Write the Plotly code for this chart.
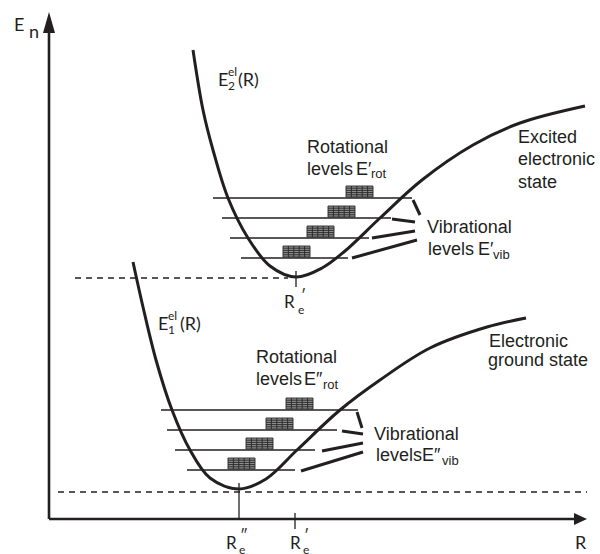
import plotly.graph_objects as go

INK = "#231f20"
SANS = "Liberation Sans, Arial, sans-serif"
HUMANIST = "Lato, Noto Sans, sans-serif"

# ---- potential curves (R, E) support points, drawing units (E grows downward on screen axis) ----
upper_R = [193, 203, 213, 228, 248, 270, 296, 322, 345, 380, 422, 473, 520, 585]
upper_E = [50, 110, 150, 198, 238, 266, 277, 268, 251, 218, 180, 145, 123, 106]

lower_R = [133, 143, 156, 172, 190, 210, 239, 266, 297, 340, 380, 430, 487, 526]
lower_E = [262, 307, 360, 410, 450, 478, 489, 479, 450, 410, 380, 348, 327, 318]

# ---- vibrational levels: energy, left end, right end ----
upper_vib_E = [198, 218, 238, 258]
upper_vib_left = [213, 222, 230, 241]
upper_vib_right = [412, 391, 369, 348]

lower_vib_E = [410, 430, 450, 470]
lower_vib_left = [161, 167, 175, 187]
lower_vib_right = [358, 337, 315, 295]

# ---- rotational fine structure blocks: left edge, sitting on each vibrational level ----
upper_rot_left = [346, 328, 307, 283]
lower_rot_left = [286, 266, 246, 228]

# ---- leader strokes from level ends to the "Vibrational levels" labels ----
upper_lead_start = [(413, 200), (392, 219), (372, 238), (352, 258)]
upper_lead_end = [(420, 215), (415, 222), (415, 231), (417, 240)]
lower_lead_start = [(357, 412), (342, 431), (322, 451), (301, 471)]
lower_lead_end = [(362, 428), (363, 434), (363, 443), (363, 452)]

# ---- equilibrium distances and minimum energies ----
Re_upper, Emin_upper = 296, 277
Re_lower, Emin_lower = 239, 489

# ---- axes frame ----
axis_R0, axis_E0 = 49, 519        # origin
axis_R_tip, axis_E_tip = 587, 12  # arrow tips

fig = go.Figure()


def line(xs, ys, width, dash=None, shape="linear", color=INK, smoothing=None):
    ln = dict(color=color, width=width, dash=dash, shape=shape)
    if smoothing is not None:
        ln["smoothing"] = smoothing
    fig.add_trace(go.Scatter(x=xs, y=ys, mode="lines", hoverinfo="skip", line=ln))


def segments(pairs, width, color=INK):
    xs, ys = [], []
    for (x0, y0), (x1, y1) in pairs:
        xs += [x0, x1, None]
        ys += [y0, y1, None]
    line(xs, ys, width, color=color)


def polygon(xs, ys, color):
    fig.add_trace(go.Scatter(x=xs, y=ys, mode="lines", fill="toself", fillcolor=color,
                             line=dict(width=0, color=color), hoverinfo="skip"))


def text(x, baseline, s, size, family=SANS, xanchor="left"):
    fig.add_annotation(x=x, y=baseline - 0.35 * size, text=s, xanchor=xanchor, yanchor="middle",
                       showarrow=False, borderpad=0,
                       font=dict(size=size, family=family, color=INK))


# axes with arrowheads
line([axis_R0, axis_R0], [axis_E0, axis_E_tip + 18], 2.6)
line([axis_R0, axis_R_tip - 12], [axis_E0, axis_E0], 2.6)
polygon([axis_R0 - 6, axis_R0, axis_R0 + 6, axis_R0 - 6],
        [axis_E_tip + 21, axis_E_tip, axis_E_tip + 21, axis_E_tip + 21], INK)
polygon([axis_R_tip - 13, axis_R_tip, axis_R_tip - 13, axis_R_tip - 13],
        [axis_E0 - 6, axis_E0, axis_E0 + 6, axis_E0 - 6], INK)

# dashed reference lines at the potential minima
line([75, Re_upper - 8], [Emin_upper + 1, Emin_upper + 1], 1.3, dash="6px,5px")
line([58, 587], [Emin_lower + 3, Emin_lower + 3], 1.3, dash="6px,5px")

# equilibrium markers
line([Re_upper, Re_upper], [Emin_upper - 6, Emin_upper + 10], 1.3)
line([Re_lower, Re_lower], [Emin_lower - 6, axis_E0], 1.3)
line([Re_upper - 1, Re_upper - 1], [axis_E0 - 6, axis_E0 + 10], 1.3)

# vibrational level lines
for E, a, b in zip(upper_vib_E + lower_vib_E, upper_vib_left + lower_vib_left,
                   upper_vib_right + lower_vib_right):
    line([a, b], [E, E], 1.3)

# rotational blocks (hatched)
BW, BH = 27, 11
grid_x, grid_y = [], []
for left, E in zip(upper_rot_left + lower_rot_left, upper_vib_E + lower_vib_E):
    top, bot = E - 1 - BH, E - 1
    polygon([left, left + BW, left + BW, left, left], [top, top, bot, bot, top], "#8e8e8e")
    for k in range(6):
        yy = top + k * BH / 5
        grid_x += [left, left + BW, None]
        grid_y += [yy, yy, None]
    for k in range(6):
        xx = left + k * BW / 5
        grid_x += [xx, xx, None]
        grid_y += [top, bot, None]
line(grid_x, grid_y, 0.9, color="#262626")

# potential curves
line(upper_R, upper_E, 3, shape="spline", smoothing=1.0)
line(lower_R, lower_E, 3, shape="spline", smoothing=1.0)

# leader strokes
segments(zip(upper_lead_start, upper_lead_end), 3)
segments(zip(lower_lead_start, lower_lead_end), 3)

# axis labels
text(13, 30, "E", 18, HUMANIST)
text(28, 37, "n", 18, HUMANIST)
text(574, 548, "R", 18, HUMANIST)

# potential labels
text(217, 85, "E", 18, HUMANIST)
text(227, 90, "2", 12, HUMANIST)
text(227, 76, "el", 12, HUMANIST)
text(237, 85, "(R)", 18, HUMANIST)

text(157, 329, "E", 18, HUMANIST)
text(167, 334, "1", 12, HUMANIST)
text(167, 320, "el", 12, HUMANIST)
text(179, 329, "(R)", 18, HUMANIST)

# equilibrium distance labels
text(283, 307, "R", 17, HUMANIST)
text(297, 314, "e", 12, HUMANIST)
text(300, 300, "′", 15, HUMANIST)

text(225, 548, "R", 17, HUMANIST)
text(238, 554, "e", 12, HUMANIST)
text(239, 540, "″", 15, HUMANIST)
text(289, 548, "R", 17, HUMANIST)
text(302, 554, "e", 12, HUMANIST)
text(303, 540, "′", 15, HUMANIST)

# excited state annotations
text(306, 153, "Rotational", 18)
text(306, 175, "levels", 18)
text(355, 175, "E′", 18)
text(370, 178, "rot", 13)

text(426, 233, "Vibrational", 18)
text(427, 255, "levels", 18)
text(477, 255, "E′", 18)
text(492, 259, "vib", 13)

text(517, 143, "Excited", 18)
text(517, 165.5, "electronic", 18)
text(517, 188, "state", 18)

# ground state annotations
text(255, 363, "Rotational", 18)
text(255, 385, "levels", 18)
text(303, 385, "E″", 18)
text(322, 389, "rot", 13)

text(373, 440, "Vibrational", 18)
text(375, 461, "levels", 18)
text(421, 461, "E″", 18)
text(441, 465, "vib", 13)

text(488, 347, "Electronic", 18)
text(487, 366, "ground state", 18)

fig.update_layout(
    width=600, height=554, margin=dict(l=0, r=0, t=0, b=0),
    paper_bgcolor="white", plot_bgcolor="white", showlegend=False,
    xaxis=dict(range=[0, 600], visible=False, fixedrange=True),
    yaxis=dict(range=[554, 0], visible=False, fixedrange=True),
)

fig.write_html("out.html")
